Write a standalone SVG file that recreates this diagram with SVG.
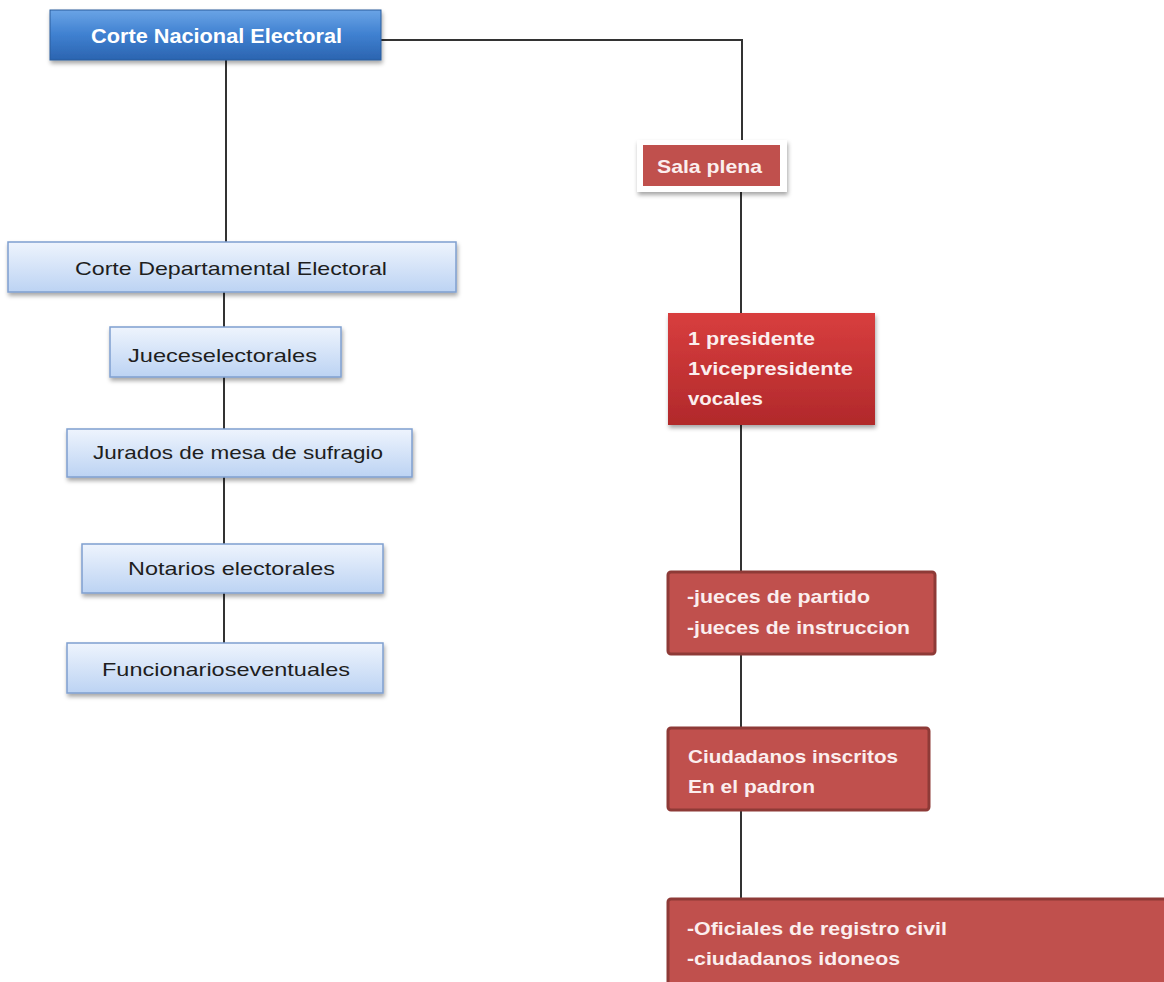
<svg xmlns="http://www.w3.org/2000/svg" width="1164" height="982" viewBox="0 0 1164 982">
<style>
.lt{font-family:"Liberation Sans",Arial,sans-serif;font-size:19px;fill:#1e1e1e;text-anchor:start}
.wt{font-family:"Liberation Sans",Arial,sans-serif;font-size:19px;font-weight:bold;fill:#fbeeee}
.lb{fill:url(#gLight);stroke:#7f9fcf;stroke-width:1.5}
.rb{fill:#c0504d;stroke:#8e3a37;stroke-width:3}
.con{stroke:#333;stroke-width:2;fill:none}
</style>
<defs>
<linearGradient id="gBlue" x1="0" y1="0" x2="0" y2="1">
<stop offset="0" stop-color="#6aa4e6"/><stop offset="0.5" stop-color="#3f80d0"/><stop offset="1" stop-color="#2b64b0"/>
</linearGradient>
<linearGradient id="gLight" x1="0" y1="0" x2="0" y2="1">
<stop offset="0" stop-color="#eef4fd"/><stop offset="1" stop-color="#bcd3f3"/>
</linearGradient>
<linearGradient id="gRed" x1="0" y1="0" x2="0" y2="1">
<stop offset="0" stop-color="#d83e3e"/><stop offset="1" stop-color="#b1292b"/>
</linearGradient>
<filter id="sh" x="-10%" y="-20%" width="120%" height="150%">
<feDropShadow dx="1" dy="3" stdDeviation="2" flood-color="#000" flood-opacity="0.35"/>
</filter>
</defs>
<rect width="1164" height="982" fill="#fff"/>
<g id="connectors">
<path class="con" d="M380,40 H742 V145"/>
<path class="con" d="M226,60 V242"/>
<path class="con" d="M224,292 V643"/>
<path class="con" d="M741,186 V898"/>
</g>
<g id="n-cne">
<rect x="50" y="10" width="331" height="50" fill="url(#gBlue)" stroke="#2a5c9c" stroke-width="1" filter="url(#sh)"/>
<text class="wt" x="91" y="43" fill="#fff" style="fill:#fff;font-size:20px" textLength="251" lengthAdjust="spacingAndGlyphs">Corte Nacional  Electoral</text>
</g>
<g id="n-sala">
<rect x="637" y="140" width="150" height="52" fill="#fff" filter="url(#sh)"/>
<rect x="643" y="145" width="137" height="41" fill="#c0504d"/>
<text class="wt" x="657" y="173" textLength="105" lengthAdjust="spacingAndGlyphs">Sala plena</text>
</g>
<g id="n-cde">
<rect class="lb" x="8" y="242" width="448" height="50" filter="url(#sh)"/>
<text class="lt" x="75" y="275" textLength="312" lengthAdjust="spacingAndGlyphs">Corte Departamental  Electoral</text>
</g>
<g id="n-jueces">
<rect class="lb" x="110" y="327" width="231" height="50" filter="url(#sh)"/>
<text class="lt" x="128" y="362" textLength="189" lengthAdjust="spacingAndGlyphs">Jueceselectorales</text>
</g>
<g id="n-jurados">
<rect class="lb" x="67" y="429" width="345" height="48" filter="url(#sh)"/>
<text class="lt" x="93" y="459" textLength="290" lengthAdjust="spacingAndGlyphs">Jurados de mesa de sufragio</text>
</g>
<g id="n-notarios">
<rect class="lb" x="82" y="544" width="301" height="49" filter="url(#sh)"/>
<text class="lt" x="128" y="575" textLength="207" lengthAdjust="spacingAndGlyphs">Notarios electorales</text>
</g>
<g id="n-funcionarios">
<rect class="lb" x="67" y="643" width="316" height="50" filter="url(#sh)"/>
<text class="lt" x="102" y="676" textLength="248" lengthAdjust="spacingAndGlyphs">Funcionarioseventuales</text>
</g>
<g id="n-presidente">
<rect x="668" y="313" width="207" height="112" fill="url(#gRed)" filter="url(#sh)"/>
<text class="wt" x="688" y="345" textLength="127" lengthAdjust="spacingAndGlyphs">1 presidente</text>
<text class="wt" x="688" y="375" textLength="165" lengthAdjust="spacingAndGlyphs">1vicepresidente</text>
<text class="wt" x="688" y="405" textLength="75" lengthAdjust="spacingAndGlyphs">vocales</text>
</g>
<g id="n-juecespartido">
<rect class="rb" x="668" y="572" width="267" height="82" rx="3"/>
<text class="wt" x="687" y="603" textLength="183" lengthAdjust="spacingAndGlyphs">-jueces de partido</text>
<text class="wt" x="687" y="634" textLength="223" lengthAdjust="spacingAndGlyphs">-jueces de instruccion</text>
</g>
<g id="n-ciudadanos">
<rect class="rb" x="668" y="728" width="261" height="82" rx="3"/>
<text class="wt" x="688" y="763" textLength="210" lengthAdjust="spacingAndGlyphs">Ciudadanos inscritos</text>
<text class="wt" x="688" y="793" textLength="127" lengthAdjust="spacingAndGlyphs">En el padron</text>
</g>
<g id="n-oficiales">
<rect class="rb" x="668" y="899" width="510" height="100" rx="3"/>
<text class="wt" x="687" y="935" textLength="260" lengthAdjust="spacingAndGlyphs">-Oficiales de registro civil</text>
<text class="wt" x="687" y="965" textLength="213" lengthAdjust="spacingAndGlyphs">-ciudadanos idoneos</text>
</g>
</svg>
